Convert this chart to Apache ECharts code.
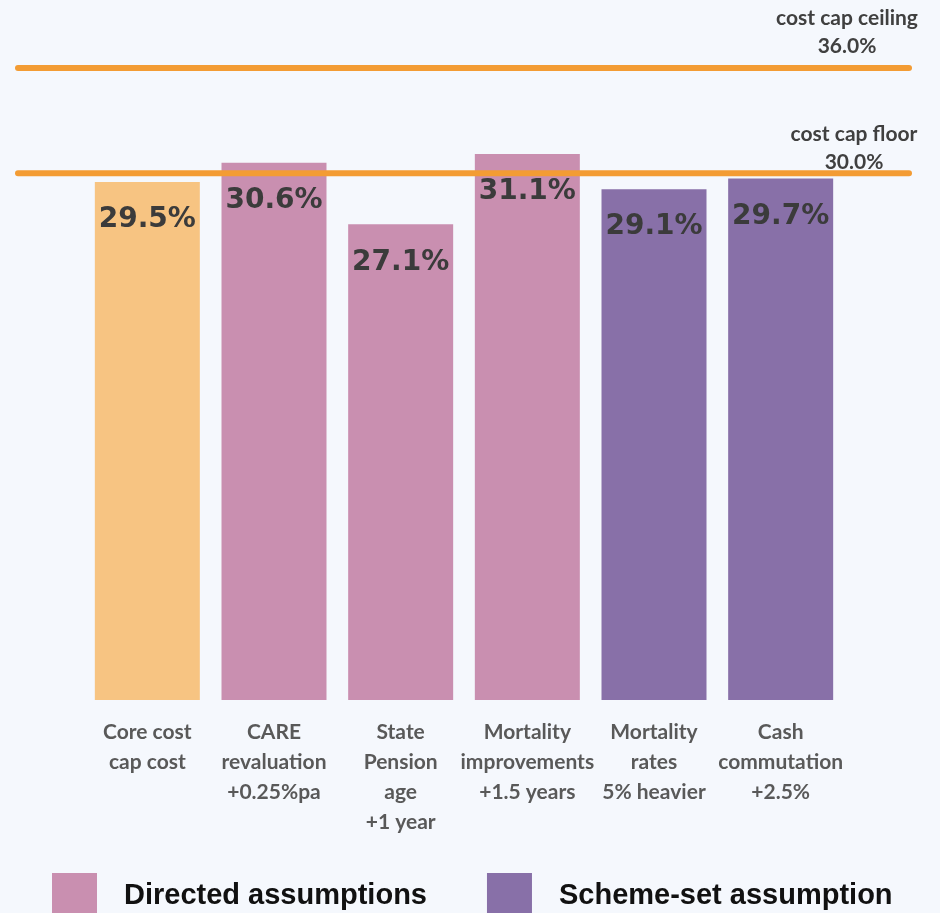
<!DOCTYPE html>
<html>
<head>
<meta charset="utf-8">
<script src="https://cdn.jsdelivr.net/npm/echarts@6/dist/echarts.min.js"></script>
<style>
  html, body { margin: 0; padding: 0; background: #f5f8fd; }
  #chart { width: 940px; height: 913px; }
</style>
</head>
<body>
<div id="chart"></div>
<script>
// categories and values
const categories = [
  'Core cost\ncap cost',
  'CARE\nrevaluation\n+0.25%pa',
  'State\nPension\nage\n+1 year',
  'Mortality\nimprovements\n+1.5 years',
  'Mortality\nrates\n5% heavier',
  'Cash\ncommutation\n+2.5%'
];
const coreValues = [29.5, '-', '-', '-', '-', '-'];
const directedValues = ['-', 30.6, 27.1, 31.1, '-', '-'];
const schemeValues = ['-', '-', '-', '-', 29.1, 29.7];
const ceilingValue = 36.0;
const floorValue = 30.0;

const myChart = echarts.init(document.getElementById('chart'));

const barLabel = {
  show: true,
  position: 'insideTop',
  distance: 24,
  formatter: '{c}%',
  color: '#3b3b3b',
  fontSize: 28,
  fontWeight: 'bold',
  fontFamily: 'DejaVu Sans'
};

const capLabel = {
  fontSize: 21,
  fontWeight: 'bold',
  fontFamily: 'Lato',
  color: '#404040',
  lineHeight: 28,
  align: 'center'
};

function capLine(name, value, text, offset) {
  return {
    name: name,
    type: 'line',
    xAxisIndex: 1,
    yAxisIndex: 1,
    symbol: 'circle',
    symbolSize: 0.1,
    showSymbol: true,
    lineStyle: { color: '#f39c34', width: 6, cap: 'round' },
    itemStyle: { color: 'transparent' },
    silent: true,
    z: 5,
    data: [
      [0, value],
      {
        value: [1, value],
        label: Object.assign({
          show: true,
          position: 'top',
          distance: 5,
          offset: offset,
          formatter: text
        }, capLabel)
      }
    ]
  };
}

const option = {
  backgroundColor: '#f5f8fd',
  animation: false,
  legend: {
    data: ['Directed assumptions', 'Scheme-set assumption'],
    left: 47,
    top: 868,
    itemWidth: 45,
    itemHeight: 45,
    itemGap: 60,
    icon: 'rect',
    textStyle: {
      fontSize: 29,
      fontWeight: 'bold',
      fontFamily: 'Liberation Sans',
      color: '#111',
      padding: [0, 0, 0, 22]
    }
  },
  grid: [
    { left: 84, right: 96, top: 68, bottom: 213 },
    { left: 18, right: 31, top: 68, bottom: 213 }
  ],
  xAxis: [
    {
      type: 'category',
      data: categories,
      axisLine: { show: false },
      axisTick: { show: false },
      axisLabel: {
        interval: 0,
        margin: 17,
        color: '#595959',
        fontSize: 21,
        fontWeight: 'bold',
        fontFamily: 'Lato',
        lineHeight: 30,
        verticalAlign: 'top'
      }
    },
    { type: 'value', gridIndex: 1, min: 0, max: 1, show: false }
  ],
  yAxis: [
    { type: 'value', min: 0, max: 36, show: false },
    { type: 'value', gridIndex: 1, min: 0, max: 36, show: false }
  ],
  series: [
    {
      name: 'Core cost cap cost',
      type: 'bar',
      barWidth: 105,
      barGap: '-100%',
      itemStyle: { color: '#f7c482' },
      label: barLabel,
      data: coreValues
    },
    {
      name: 'Directed assumptions',
      type: 'bar',
      barWidth: 105,
      barGap: '-100%',
      itemStyle: { color: '#c98fb0' },
      label: barLabel,
      data: directedValues
    },
    {
      name: 'Scheme-set assumption',
      type: 'bar',
      barWidth: 105,
      barGap: '-100%',
      itemStyle: { color: '#8870a8' },
      label: barLabel,
      data: schemeValues
    },
    capLine('ceiling', ceilingValue, 'cost cap ceiling\n' + ceilingValue.toFixed(1) + '%', [-62, -3]),
    capLine('floor', floorValue, 'cost cap floor\n' + floorValue.toFixed(1) + '%', [-55, 8])
  ]
};

myChart.setOption(option);
</script>
</body>
</html>
